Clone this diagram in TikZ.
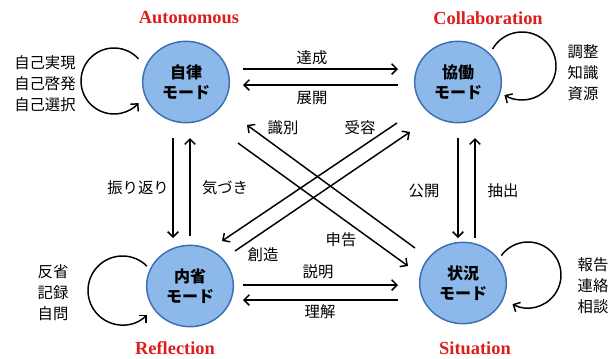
\documentclass[tikz,border=0pt]{standalone}
\usepackage{fontspec}
\newfontfamily\jp{Noto Sans CJK JP}
\newfontfamily\lserif{Liberation Serif}
\usetikzlibrary{arrows.meta,calc,shapes.geometric}
\definecolor{cfill}{RGB}{141,185,234}
\definecolor{cdraw}{RGB}{60,110,180}
\definecolor{lred}{RGB}{220,30,30}
\begin{document}
\begin{tikzpicture}[x=0.75pt,y=-0.75pt,
 mode/.style={ellipse,draw=cdraw,fill=cfill,line width=1.1pt,minimum width=65pt,minimum height=61pt,inner sep=0pt,align=center,font=\jp\bfseries\fontsize{12}{15}\selectfont},
 arr/.style={line width=1.1pt,-{Straight Barb[length=4pt,width=8pt,line width=1.1pt]}},
 lbl/.style={font=\jp\fontsize{11.5}{15}\selectfont,inner sep=1pt},
 side/.style={font=\jp\fontsize{11.5}{15.75}\selectfont,align=center,inner sep=0pt},
 ttl/.style={font=\lserif\bfseries\fontsize{13.8}{16}\selectfont,text=lred,inner sep=0pt}]
\useasboundingbox (0,0) rectangle (611,358);
% modes
\node[mode] (A) at (186,82) {自律\\モード};
\node[mode] (C) at (458,82) {協働\\モード};
\node[mode] (R) at (190,286) {内省\\モード};
\node[mode] (S) at (463,283) {状況\\モード};
% titles
\node[ttl] (tA) at (189,18) {Autonomous};
\node[ttl] (tC) at (488,18) {Collaboration};
\node[ttl] (tR) at (175,348) {Reflection};
\node[ttl] (tS) at (475,348) {Situation};
% side labels
\node[side] (sA) at (45,84) {自己実現\\自己啓発\\自己選択};
\node[side] (sC) at (583,73) {調整\\知識\\資源};
\node[side] (sR) at (53,293) {反省\\記録\\自問};
\node[side] (sS) at (593,286) {報告\\連絡\\相談};
% self loops
\draw[arr] ($(A)+(-72,-1)+(-42:33)$) arc[start angle=-42,end angle=-318,radius=33];
\draw[arr] ($(C)+(64,-16)+(-150:34)$) arc[start angle=-150,end angle=121,radius=34];
\draw[arr] ($(R)+(-67.5,4.5)+(-45:34.5)$) arc[start angle=-45,end angle=-315,radius=34.5];
\draw[arr] ($(S)+(65,-8)+(-144:33)$) arc[start angle=-144,end angle=118,radius=33];
% horizontal
\draw[arr] ($(A)+(57,-13)$) -- ($(C)+(-60,-13)$);
\draw[arr] ($(C)+(-60,3)$) -- ($(A)+(57,3)$);
\draw[arr] ($(R)+(53,-1)$) -- ($(S)+(-65,2)$);
\draw[arr] ($(S)+(-65,17)$) -- ($(R)+(53,14)$);
% vertical
\draw[arr] ($(A)+(-13,56)$) -- ($(R)+(-17,-48)$);
\draw[arr] ($(R)+(0,-50)$) -- ($(A)+(4,56)$);
\draw[arr] ($(C)+(0,56)$) -- ($(S)+(-5,-45)$);
\draw[arr] ($(S)+(12,-45)$) -- ($(C)+(17,56)$);
% diagonals
\draw[arr] ($(S)+(-48,-35)$) -- ($(A)+(61,43)$);
\draw[arr] ($(A)+(52,61)$) -- ($(S)+(-55,-17)$);
\draw[arr] ($(C)+(-61,41)$) -- ($(R)+(32,-45)$);
\draw[arr] ($(R)+(45,-35)$) -- ($(C)+(-48,50)$);
% arrow labels
\node[lbl] (l1) at (312,58) {達成};
\node[lbl] (l2) at (312,98) {展開};
\node[lbl] (l3) at (318,272) {説明};
\node[lbl] (l4) at (320,312) {理解};
\node[lbl] (l5) at (138,188) {振り返り};
\node[lbl] (l6) at (225,188) {気づき};
\node[lbl] (l7) at (424,191) {公開};
\node[lbl] (l8) at (503,191) {抽出};
\node[lbl] (l9) at (283,128) {識別};
\node[lbl] (l10) at (360,128) {受容};
\node[lbl] (l11) at (341,240) {申告};
\node[lbl] (l12) at (263,255) {創造};
\end{tikzpicture}
\end{document}
